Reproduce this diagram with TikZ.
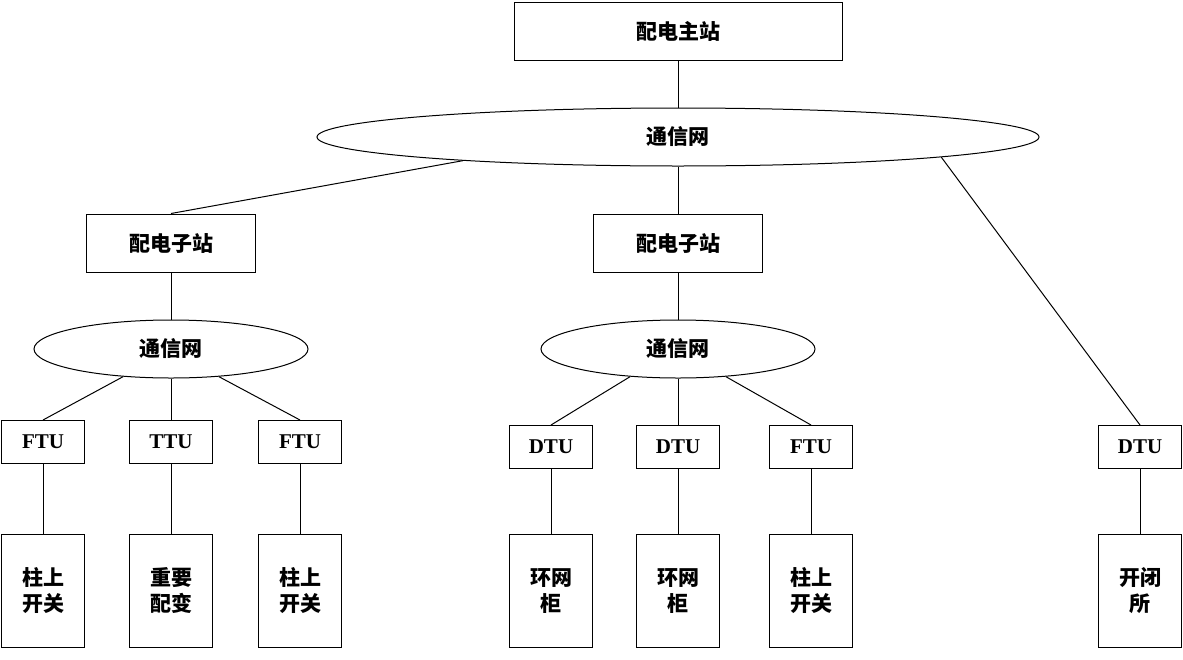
\documentclass[tikz,border=0pt]{standalone}
\usepackage{fontspec}
\setmainfont{Liberation Serif}
\newfontfamily\cjk{Noto Sans CJK SC}
\usetikzlibrary{shapes}

\begin{document}
\begin{tikzpicture}[x = 0.5pt, y = -0.5pt, line width = 0.5pt,
	box/.style = {draw, rectangle, inner sep = 0pt, align = center, font = \cjk\bfseries\fontsize{10.5}{13}\selectfont},
	unit/.style = {draw, rectangle, inner sep = 0pt, minimum width = 41.5pt, minimum height = 21.5pt, font = \bfseries\fontsize{10.5}{13}\selectfont},
	dev/.style = {box, minimum width = 41.5pt, minimum height = 56.5pt},
	net/.style = {draw, ellipse, inner sep = 0pt, minimum height = 29pt, font = \cjk\bfseries\fontsize{10.5}{13}\selectfont}]
	\useasboundingbox (0,0) rectangle (1183,659);
	\node[box, minimum width = 164pt, minimum height = 29pt] (master) at (678, 31) {配电主站};
	\node[net, minimum width = 361pt] (net) at (678, 137) {通信网};
	\node[box, minimum width = 84.5pt, minimum height = 29pt] (sub1) at (171, 243) {配电子站};
	\node[box, minimum width = 84.5pt, minimum height = 29pt] (sub2) at (678, 243) {配电子站};
	\node[net, minimum width = 137pt] (net1) at (171, 349) {通信网};
	\node[net, minimum width = 137pt] (net2) at (678, 349) {通信网};
	\node[unit] (ftu1) at (43, 442) {FTU};
	\node[unit] (ttu) at (171, 442) {TTU};
	\node[unit] (ftu2) at (300, 442) {FTU};
	\node[unit] (dtu1) at (551, 447) {DTU};
	\node[unit] (dtu2) at (678, 447) {DTU};
	\node[unit] (ftu3) at (811, 447) {FTU};
	\node[unit] (dtu3) at (1140, 447) {DTU};
	\node[dev] (sw1) at (43, 591) {柱上\\开关};
	\node[dev] (tr) at (171, 591) {重要\\配变};
	\node[dev] (sw2) at (300, 591) {柱上\\开关};
	\node[dev] (rmu1) at (551, 591) {环网\\柜};
	\node[dev] (rmu2) at (678, 591) {环网\\柜};
	\node[dev] (sw3) at (811, 591) {柱上\\开关};
	\node[dev] (kb) at (1140, 591) {开闭\\所};
	\path (net.186) -- (net.187) coordinate[pos = 0.3] (netl);
	\path (net.355) -- (net.356) coordinate[pos = 0.6] (netr);
	\draw (master) -- (net);
	\draw (netl) -- (sub1.north);
	\draw (net) -- (sub2);
	\draw (netr) -- (dtu3.north);
	\draw (sub1) -- (net1);
	\draw (sub2) -- (net2);
	\draw (net1.210) -- (ftu1.north);
	\draw (net1) -- (ttu);
	\draw (net1.330) -- (ftu2.north);
	\draw (net2.210) -- (dtu1.north);
	\draw (net2) -- (dtu2);
	\draw (net2.330) -- (ftu3.north);
	\draw (ftu1) -- (sw1);
	\draw (ttu) -- (tr);
	\draw (ftu2) -- (sw2);
	\draw (dtu1) -- (rmu1);
	\draw (dtu2) -- (rmu2);
	\draw (ftu3) -- (sw3);
	\draw (dtu3) -- (kb);
\end{tikzpicture}
\end{document}
